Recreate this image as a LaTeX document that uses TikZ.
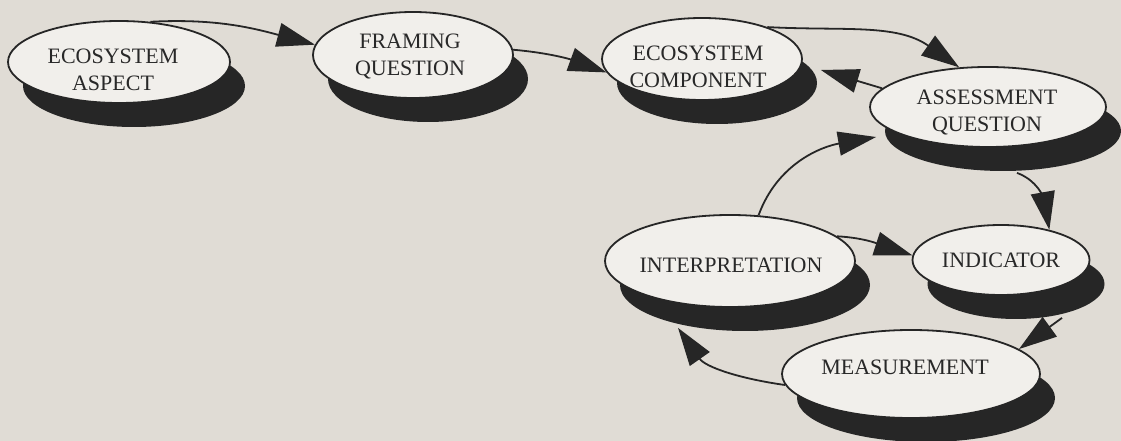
\documentclass[tikz,border=0pt]{standalone}
\usepackage{fontspec}
\setmainfont{Liberation Serif}
\usetikzlibrary{shapes.geometric,shadows,arrows.meta}
\definecolor{bgc}{RGB}{224,220,213}
\definecolor{fillc}{RGB}{241,239,235}
\definecolor{inkc}{RGB}{38,38,38}
\definecolor{txtc}{RGB}{40,40,40}
\tikzset{
  stage/.style={ellipse, draw=inkc, line width=1.8pt, fill=fillc, inner sep=0pt,
    drop shadow={shadow xshift=15pt, shadow yshift=-24pt, xscale=0.96, fill=black!85, opacity=1}},
  word/.style={inner sep=0pt, align=center, text=txtc, font=\fontsize{22}{27}\selectfont},
  link/.style={draw=inkc, line width=1.8pt, -{Triangle[length=38pt,width=24pt]}}
}
\begin{document}
\begin{tikzpicture}[x=1pt,y=1pt]
\fill[bgc] (0,0) rectangle (1121,441);
\path[use as bounding box] (0,0) rectangle (1121,441);

\node[stage, minimum width=222pt, minimum height=82pt] (asp) at (119,379) {};
\node[stage, minimum width=200pt, minimum height=86pt] (frm) at (413,386) {};
\node[stage, minimum width=200pt, minimum height=82pt] (cmp) at (702,382) {};
\node[stage, minimum width=236pt, minimum height=80pt] (asq) at (988,334) {};
\node[stage, minimum width=250pt, minimum height=92pt] (int) at (730,180) {};
\node[stage, minimum width=177pt, minimum height=70pt] (ind) at (1001,181) {};
\node[stage, minimum width=258pt, minimum height=88pt] (mea) at (911,67) {};

\node[word] (aspT) at ([shift={(-6,-8)}]asp.center) {ECOSYSTEM\\ASPECT};
\node[word] (frmT) at ([shift={(-3,-2)}]frm.center) {FRAMING\\QUESTION};
\node[word] (cmpT) at ([shift={(-4,-8)}]cmp.center) {ECOSYSTEM\\COMPONENT};
\node[word] (asqT) at ([shift={(-1,-6)}]asq.center) {ASSESSMENT\\QUESTION};
\node[word] (intT) at ([shift={(1,-4)}]int.center) {INTERPRETATION};
\node[word] (indT) at ([shift={(0,0)}]ind.center) {INDICATOR};
\node[word] (meaT) at ([shift={(-6,7)}]mea.center) {MEASUREMENT};

\draw[link] (asp.52) to[out=3, in=165] (frm.174);
\draw[link] (frm.3) to[out=-5, in=160] (cmp.188);
\draw[link] (cmp.26) to[out=-3, in=145] (asq.126);
\draw[link] (asq.170) -- ([shift={(18,-11)}]cmp.east);
\draw[link] (int.58) to[out=70, in=190] ([shift={(7,-30)}]asq.west);
\draw[link] ([shift={(29,-25)}]asq.south) to[out=-20, in=100] (ind.32);
\draw[link] (int.13) to[out=-3, in=162] (ind.177);
\draw[link] ([shift={(61,-22)}]ind.south) -- (mea.13);
\draw[link] (mea.185) to[out=172, in=-55] ([shift={(-52,-20)}]int.south);
\end{tikzpicture}
\end{document}
